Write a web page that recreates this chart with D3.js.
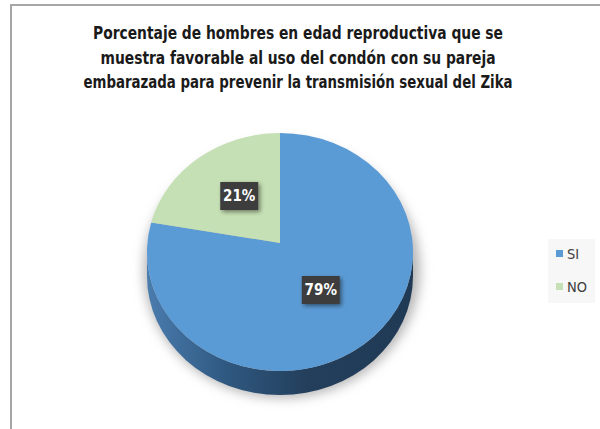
<!DOCTYPE html>
<html>
<head>
<meta charset="utf-8">
<script src="https://cdn.jsdelivr.net/npm/d3@7"></script>
<style>
  body { margin: 0; background: #fff; }
  svg { display: block; }
</style>
</head>
<body>
<svg id="chart" width="600" height="429"></svg>
<script>
// données
var categories = ["SI", "NO"];
var valeurs = [79, 21];
var couleurs = ["#5b9bd5", "#c5e0b4"];
var titre = [
  "Porcentaje de hombres en edad reproductiva que se",
  "muestra favorable al uso del condón  con su pareja",
  "embarazada para prevenir la transmisión sexual del Zika"
];

var svg = d3.select("#chart");
var police = "'Liberation Sans Narrow', 'DejaVu Sans Condensed', Roboto, sans-serif";

var defs = svg.append("defs");
defs.append("filter").attr("id", "flou")
    .attr("x", "-20%").attr("y", "-20%").attr("width", "140%").attr("height", "140%")
  .append("feGaussianBlur").attr("stdDeviation", 6);
var ombre = defs.append("filter").attr("id", "ombreBoite")
    .attr("x", "-30%").attr("y", "-30%").attr("width", "170%").attr("height", "170%");
ombre.append("feDropShadow").attr("dx", 2).attr("dy", 2).attr("stdDeviation", 2)
    .attr("flood-color", "#000").attr("flood-opacity", 0.45);
var grad = defs.append("linearGradient").attr("id", "cote")
    .attr("x1", "0%").attr("x2", "100%").attr("y1", "0%").attr("y2", "0%");
grad.append("stop").attr("offset", "0%").attr("stop-color", "#4a7cae");
grad.append("stop").attr("offset", "30%").attr("stop-color", "#2f5880");
grad.append("stop").attr("offset", "60%").attr("stop-color", "#233f5c");
grad.append("stop").attr("offset", "100%").attr("stop-color", "#203a55");

// cadre
svg.append("path")
    .attr("d", "M11,432 L11,5 L604,5")
    .attr("fill", "none").attr("stroke", "#a6a6a6").attr("stroke-width", 2);

// titre
svg.append("g").selectAll("text")
  .data(titre)
  .enter().append("text")
    .attr("x", 298)
    .attr("y", function(d, i) { return 39 + i * 24.5; })
    .attr("text-anchor", "middle")
    .attr("font-family", police)
    .attr("font-weight", "bold")
    .attr("font-size", 17)
    .attr("fill", "#1a1a1a")
    .attr("textLength", function(d, i) { return [410, 395, 429][i]; })
    .attr("lengthAdjust", "spacingAndGlyphs")
    .text(function(d) { return d; });

// camembert en perspective
var cx = 280, cy = 252, rx = 133, ry = 119, prof = 24;
var sommet = [cx, 243];
function pt(a) { return [cx + rx * Math.sin(a), cy - ry * Math.cos(a)]; }

var pie = d3.pie().sort(null).value(function(d) { return d; });
var arcs = pie(valeurs);

// ombre portée
svg.append("ellipse")
    .attr("cx", cx + 2).attr("cy", cy + prof / 2 + 6)
    .attr("rx", rx + 5).attr("ry", ry + 9)
    .attr("fill", "#b4b4b4")
    .attr("filter", "url(#flou)");

// côté
var g = svg.append("g");
var gauche = pt(-Math.PI / 2), droite = pt(Math.PI / 2);
g.append("path")
    .attr("d", "M" + gauche + " A" + rx + "," + ry + " 0 0 0 " + droite +
               " L" + droite[0] + "," + (droite[1] + prof) +
               " A" + rx + "," + ry + " 0 0 1 " + gauche[0] + "," + (gauche[1] + prof) + " Z")
    .attr("fill", "url(#cote)");

// dessus
g.selectAll("path.part")
  .data(arcs)
  .enter().append("path")
    .attr("class", "part")
    .attr("d", function(d) {
      var a = pt(d.startAngle), b = pt(d.endAngle);
      var grand = (d.endAngle - d.startAngle) > Math.PI ? 1 : 0;
      return "M" + sommet + " L" + a + " A" + rx + "," + ry + " 0 " + grand + " 1 " + b + " Z";
    })
    .attr("fill", function(d, i) { return couleurs[i]; });

// étiquettes
var etiq = g.selectAll("g.etiq")
  .data(arcs)
  .enter().append("g")
    .attr("class", "etiq")
    .attr("transform", function(d) {
      var m = (d.startAngle + d.endAngle) / 2;
      var x = sommet[0] + 0.5 * rx * Math.sin(m);
      var y = sommet[1] - 0.5 * ry * Math.cos(m);
      return "translate(" + x + "," + y + ")";
    });
etiq.append("rect")
    .attr("x", -19).attr("y", -14).attr("width", 38).attr("height", 28)
    .attr("fill", "#3c3c3c")
    .attr("filter", "url(#ombreBoite)");
etiq.append("text")
    .attr("text-anchor", "middle")
    .attr("dy", "0.36em")
    .attr("font-family", police)
    .attr("font-weight", "bold")
    .attr("font-size", 15)
    .attr("fill", "#fff")
    .text(function(d) { return d.data + "%"; });

// légende
var leg = svg.append("g").attr("transform", "translate(548,239)");
leg.append("rect").attr("width", 47).attr("height", 64).attr("fill", "#f7f7f7");
var item = leg.selectAll("g.item")
  .data(categories)
  .enter().append("g")
    .attr("class", "item")
    .attr("transform", function(d, i) { return "translate(8," + (11 + i * 33) + ")"; });
item.append("rect")
    .attr("width", 7).attr("height", 7)
    .attr("fill", function(d, i) { return couleurs[i]; });
item.append("text")
    .attr("x", 11).attr("y", 9)
    .attr("font-family", police)
    .attr("font-size", 14.5)
    .attr("fill", "#404040")
    .text(function(d) { return d; });
</script>
</body>
</html>
